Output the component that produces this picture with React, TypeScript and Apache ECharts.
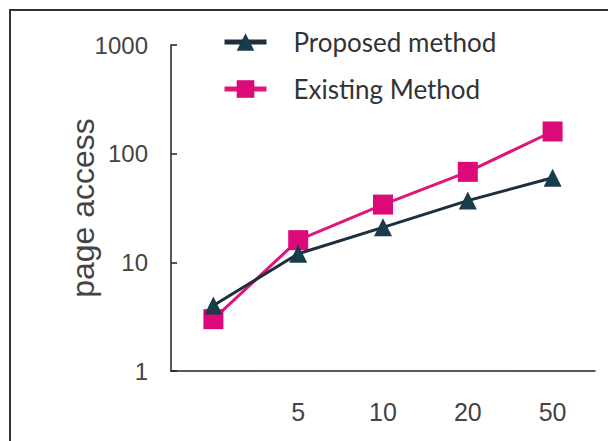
import React, { useEffect, useRef } from "react";
import * as echarts from "echarts";

const categories = ["", "5", "10", "20", "50"];
const proposed = [4, 12, 21, 37, 60];
const existing = [3, 16, 34, 68, 160];
const seriesNames = ["Proposed method", "Existing Method"];
const yAxisName = "page access";

export default function App() {
  const ref = useRef<HTMLDivElement>(null);
  useEffect(() => {
    if (!ref.current) return;
    const chart = echarts.init(ref.current, null, { renderer: "svg" });
    chart.setOption({
      animation: false,
      backgroundColor: "#ffffff",
      textStyle: { fontFamily: "Liberation Sans" },
      grid: { left: 171, right: 13, top: 45, bottom: 70 },
      legend: {
        orient: "vertical",
        left: 217,
        top: 24,
        itemWidth: 42,
        itemHeight: 22,
        itemGap: 21,
        data: seriesNames,
        textStyle: { fontFamily: "Lato", fontSize: 26, color: "#333", padding: [0, 0, 0, 22] },
        lineStyle: { width: 5 },
      },
      xAxis: {
        type: "category",
        data: categories,
        boundaryGap: true,
        axisLine: { lineStyle: { color: "#222", width: 1.5 } },
        axisTick: { inside: true, length: 8, interval: 0, lineStyle: { color: "#222", width: 1.5 } },
        axisLabel: { margin: 28, fontSize: 25, color: "#444", interval: 0 },
      },
      yAxis: {
        type: "log",
        logBase: 10,
        min: 1,
        max: 1000,
        name: yAxisName,
        nameLocation: "middle",
        nameGap: 72,
        nameMoveOverlap: false,
        nameTextStyle: { fontSize: 32, color: "#444" },
        splitLine: { show: false },
        axisLine: { show: true, lineStyle: { color: "#222", width: 1.5 } },
        axisTick: { show: true, inside: true, length: 6, lineStyle: { color: "#222", width: 1.5 } },
        axisLabel: { margin: 23, fontSize: 24, color: "#444", formatter: (v: number) => String(v) },
      },
      series: [
        {
          name: seriesNames[0],
          type: "line",
          data: proposed,
          symbol: "triangle",
          symbolSize: 18,
          color: "#173c4c",
          lineStyle: { color: "#1e2e3c", width: 3 },
          itemStyle: { color: "#173c4c" },
          z: 3,
        },
        {
          name: seriesNames[1],
          type: "line",
          data: existing,
          symbol: "rect",
          symbolSize: 20,
          color: "#dc0a78",
          lineStyle: { color: "#e0167a", width: 3 },
          itemStyle: { color: "#dc0a78" },
          z: 2,
        },
      ],
      graphic: [
        {
          type: "rect",
          shape: { x: 10, y: 10, width: 640, height: 470 },
          style: { fill: "none", stroke: "#333", lineWidth: 2 },
          silent: true,
        },
      ],
    });
    return () => chart.dispose();
  }, []);
  return (
    <div
      ref={ref}
      style={{ position: "fixed", left: 0, top: 0, width: 608, height: 441 }}
    />
  );
}
